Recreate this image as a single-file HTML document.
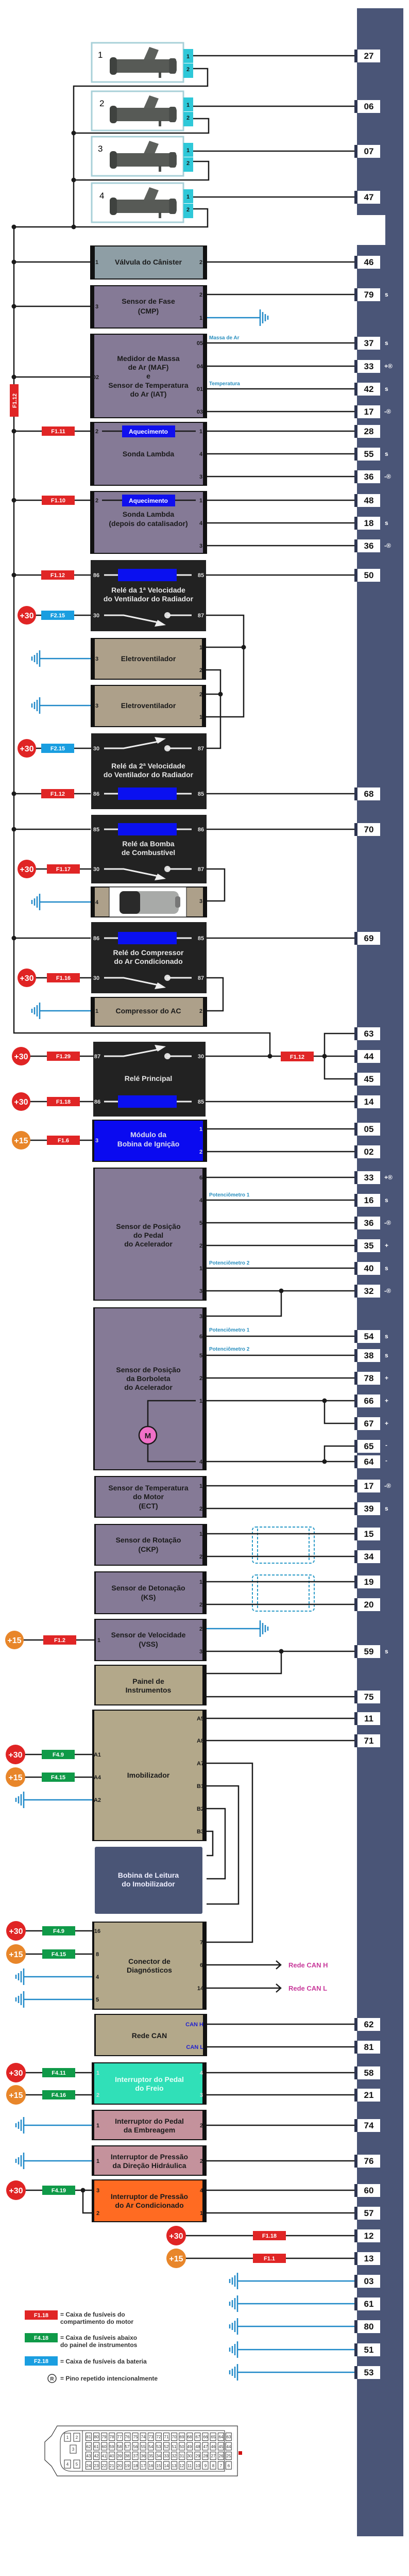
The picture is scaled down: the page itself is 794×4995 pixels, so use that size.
<!DOCTYPE html>
<html><head><meta charset="utf-8"><style>
html,body{margin:0;padding:0;background:#fff}
svg{display:block}
.w{stroke:#1a1a1a;stroke-width:2.5;fill:none}
.ww{stroke:#eee;stroke-width:3;fill:none}
.g{stroke:#1e88c8;stroke-width:2.5;fill:none}
text{font-family:"Liberation Sans",sans-serif;font-weight:bold}
.n{font-size:17px;text-anchor:middle;fill:#111}
.t{font-size:14px;text-anchor:middle;fill:#1a1a1a}
.tw{font-size:14px;text-anchor:middle;fill:#e6e6e6}
.p{font-size:11px;fill:#1a1a1a;text-anchor:middle}
.pw{font-size:11px;fill:#ddd;text-anchor:middle}
.f{font-size:11px;fill:#fff;text-anchor:middle}
.a{font-size:12px;fill:#fff}
.c{font-size:16px;fill:#fff;text-anchor:middle}
.lb{font-size:10px;fill:#2a8fbf}
.lg{font-size:12px;fill:#333}
.cn{font-size:8px;fill:#333;text-anchor:middle;font-weight:normal}
</style></head><body>
<svg width="794" height="4995" viewBox="0 0 794 4995" xmlns="http://www.w3.org/2000/svg">
<defs>
<g id="pb"><rect x="688" y="-12" width="7" height="25" fill="#2d3550"/><rect x="694" y="-12" width="44" height="25" fill="#fff"/></g>
<g id="gL"><path class="g" d="M0 -16V16M-5 -11V11M-10 -7V7M-15 -4V4"/></g>
<g id="gR"><path class="g" d="M0 -16V16M5 -11V11M10 -7V7M15 -4V4"/></g>
<g id="inj"><rect x="0" y="0" width="178" height="76" fill="#fff" stroke="#a8d0d8" stroke-width="3"/>
<polygon points="100,35 112,8 130,14 120,38" fill="#5d605c"/>
<rect x="35" y="32" width="130" height="26" rx="5" fill="#575a56"/>
<rect x="35" y="28" width="14" height="34" rx="6" fill="#3f423f"/>
<rect x="150" y="30" width="14" height="30" rx="4" fill="#4a4d4a"/>
<rect x="130" y="56" width="5" height="12" fill="#4a4d4a"/>
<rect x="178" y="12" width="19" height="27" fill="#2ec8d8"/><rect x="178" y="40" width="19" height="28" fill="#2ec8d8"/>
<text x="187" y="30" class="p" fill="#124">1</text><text x="187" y="55" class="p">2</text></g>
<g id="dot"><circle r="4.5" fill="#1a1a1a"/></g>
<pattern id="pp" x="166" y="4717" width="15.1" height="18.5" patternUnits="userSpaceOnUse"><rect x="0.5" y="0.5" width="11" height="15" fill="#fff" stroke="#333" stroke-width="1"/></pattern>
</defs>

<!-- ECU bar -->
<rect x="693" y="16" width="90" height="401" fill="#4a5577"/>
<rect x="748" y="417" width="35" height="60" fill="#4a5577"/>
<rect x="693" y="475" width="90" height="4443" fill="#4a5577"/>

<!-- injectors -->
<use href="#inj" x="178" y="83"/><use href="#inj" x="178" y="177"/><use href="#inj" x="178" y="265"/><use href="#inj" x="178" y="355"/>
<text x="190" y="112" style="font-size:17px;font-weight:normal">1</text>
<text x="193" y="206" style="font-size:17px;font-weight:normal">2</text>
<text x="190" y="294" style="font-size:17px;font-weight:normal">3</text>
<text x="193" y="385" style="font-size:17px;font-weight:normal">4</text>
<path class="w" d="M375 108H688M375 206H688M375 293H688M375 382H688"/>
<path class="w" d="M375 133H403V167H143V440M375 230H405V258H143M375 313H405V349H143M375 405H403V440H27V2003H524V2048"/>
<use href="#dot" x="143" y="258"/><use href="#dot" x="143" y="349"/><use href="#dot" x="143" y="440"/><use href="#dot" x="27" y="440"/>
<rect x="19" y="745" width="17" height="63" fill="#e02525"/>
<text transform="translate(32,777) rotate(-90)" class="f">F1.12</text>

<!-- bus dots & wires -->
<g>
<use href="#dot" x="27" y="508"/><use href="#dot" x="27" y="594"/><use href="#dot" x="27" y="731"/><use href="#dot" x="27" y="836"/><use href="#dot" x="27" y="970"/><use href="#dot" x="27" y="1115"/><use href="#dot" x="27" y="1539"/><use href="#dot" x="27" y="1608"/><use href="#dot" x="27" y="1819"/>
<path class="w" d="M27 508H176M27 594H176M27 731H176M27 836H176M27 970H176M27 1115H176M27 1539H176M27 1608H176M27 1819H176"/>
</g>

<!-- Canister -->
<rect x="175" y="476" width="227" height="66" fill="#111"/><rect x="184" y="478" width="210" height="62" fill="#8e9ea5"/>
<text x="288" y="513" class="t">Válvula do Cânister</text>
<text x="188" y="512" class="p">1</text><text x="390" y="512" class="p">2</text>
<!-- CMP -->
<rect x="175" y="553" width="227" height="84" fill="#111"/><rect x="183" y="555" width="211" height="80" fill="#857a96"/>
<text x="288" y="589" class="t">Sensor de Fase</text><text x="288" y="608" class="t">(CMP)</text>
<text x="390" y="575" class="p">2</text><text x="390" y="620" class="p">1</text><text x="188" y="598" class="p">3</text>
<path class="g" d="M402 616H505"/><use href="#gR" x="505" y="616"/>
<!-- MAF -->
<rect x="175" y="647" width="227" height="164" fill="#111"/><rect x="183" y="649" width="211" height="160" fill="#857a96"/>
<text x="288" y="700" class="t">Medidor de Massa</text><text x="288" y="717" class="t">de Ar (MAF)</text><text x="288" y="734" class="t">e</text><text x="288" y="752" class="t">Sensor de Temperatura</text><text x="288" y="769" class="t">do Ar (IAT)</text>
<text x="388" y="669" class="p">05</text><text x="388" y="714" class="p">04</text><text x="388" y="758" class="p">01</text><text x="388" y="802" class="p">03</text><text x="186" y="735" class="p">02</text>
<text x="406" y="658" class="lb">Massa de Ar</text><text x="406" y="747" class="lb">Temperatura</text>
<!-- Sonda 1 -->
<rect x="175" y="818" width="227" height="124" fill="#111"/><rect x="183" y="820" width="211" height="120" fill="#857a96"/>
<path class="w" d="M198 836H380"/><rect x="237" y="825" width="103" height="23" fill="#1010ee"/><text x="288" y="841" class="f" style="font-size:12px">Aquecimento</text>
<text x="188" y="840" class="p">2</text><text x="390" y="840" class="p">1</text><text x="390" y="884" class="p">4</text><text x="390" y="928" class="p">3</text>
<text x="288" y="885" class="t">Sonda Lambda</text>
<!-- Sonda 2 -->
<rect x="175" y="952" width="227" height="122" fill="#111"/><rect x="183" y="954" width="211" height="118" fill="#857a96"/>
<path class="w" d="M198 970H380"/><rect x="237" y="959" width="103" height="23" fill="#1010ee"/><text x="288" y="975" class="f" style="font-size:12px">Aquecimento</text>
<text x="188" y="974" class="p">2</text><text x="390" y="974" class="p">1</text><text x="390" y="1018" class="p">4</text><text x="390" y="1062" class="p">3</text>
<text x="288" y="1002" class="t">Sonda Lambda</text><text x="288" y="1020" class="t">(depois do catalisador)</text>

<!-- Relay 1 -->
<rect x="176" y="1086" width="224" height="138" fill="#222"/>
<path class="ww" d="M202 1115H229M343 1115H372"/><rect x="229" y="1103" width="114" height="24" fill="#0a10f0"/>
<text x="187" y="1119" class="pw">86</text><text x="390" y="1119" class="pw">85</text>
<text x="288" y="1149" class="tw">Relé da 1ª Velocidade</text><text x="288" y="1166" class="tw">do Ventilador do Radiador</text>
<path class="ww" d="M202 1193H240L312 1208"/><polygon points="322,1212 300,1215 306,1202" fill="#eee"/><circle cx="325" cy="1193" r="6" fill="#ddd"/><path class="ww" d="M325 1193H372"/>
<text x="187" y="1197" class="pw">30</text><text x="390" y="1197" class="pw">87</text>
<!-- Eletroventiladores -->
<rect x="176" y="1237" width="224" height="81" fill="#111"/><rect x="184" y="1239" width="208" height="77" fill="#ada08a"/>
<text x="288" y="1282" class="t">Eletroventilador</text><text x="188" y="1281" class="p">3</text><text x="390" y="1259" class="p">1</text><text x="390" y="1303" class="p">2</text>
<rect x="176" y="1328" width="224" height="82" fill="#111"/><rect x="184" y="1330" width="208" height="78" fill="#ada08a"/>
<text x="288" y="1373" class="t">Eletroventilador</text><text x="188" y="1372" class="p">3</text><text x="390" y="1350" class="p">2</text><text x="390" y="1394" class="p">1</text>
<path class="w" d="M400 1193H473V1390H400M400 1255H473M400 1299H428V1451H400M400 1346H428"/>
<use href="#dot" x="473" y="1255"/><use href="#dot" x="428" y="1346"/>
<path class="g" d="M77 1277H176M77 1368H176M77 1749H176M77 1960H176"/>
<use href="#gL" x="77" y="1277"/><use href="#gL" x="77" y="1368"/><use href="#gL" x="77" y="1749"/><use href="#gL" x="77" y="1960"/>
<!-- Relay 2 -->
<rect x="177" y="1422" width="224" height="147" fill="#222"/>
<path class="ww" d="M202 1451H240L312 1437"/><polygon points="322,1432 300,1429 306,1442" fill="#eee"/><circle cx="325" cy="1451" r="6" fill="#ddd"/><path class="ww" d="M325 1451H372"/>
<text x="187" y="1455" class="pw">30</text><text x="390" y="1455" class="pw">87</text>
<text x="288" y="1490" class="tw">Relé da 2ª Velocidade</text><text x="288" y="1507" class="tw">do Ventilador do Radiador</text>
<path class="ww" d="M202 1539H229M343 1539H372"/><rect x="229" y="1527" width="114" height="24" fill="#0a10f0"/>
<text x="187" y="1543" class="pw">86</text><text x="390" y="1543" class="pw">85</text>
<!-- Fuel relay -->
<rect x="177" y="1580" width="224" height="133" fill="#222"/>
<path class="ww" d="M202 1608H229M343 1608H372"/><rect x="229" y="1596" width="114" height="24" fill="#0a10f0"/>
<text x="187" y="1612" class="pw">85</text><text x="390" y="1612" class="pw">86</text>
<text x="288" y="1641" class="tw">Relé da Bomba</text><text x="288" y="1658" class="tw">de Combustível</text>
<path class="ww" d="M202 1685H240L312 1700"/><polygon points="322,1704 300,1707 306,1694" fill="#eee"/><circle cx="325" cy="1685" r="6" fill="#ddd"/><path class="ww" d="M325 1685H372"/>
<text x="187" y="1689" class="pw">30</text><text x="390" y="1689" class="pw">87</text>
<!-- Pump -->
<rect x="176" y="1719" width="226" height="60" fill="#111"/><rect x="184" y="1721" width="210" height="56" fill="#ada08a"/>
<rect x="212" y="1720" width="150" height="58" fill="#fff" stroke="#111"/>
<rect x="255" y="1728" width="92" height="44" rx="10" fill="#a8aaa8"/><rect x="232" y="1728" width="40" height="44" rx="8" fill="#2a2a2a"/><rect x="340" y="1738" width="10" height="22" rx="4" fill="#777"/>
<text x="188" y="1753" class="p">4</text><text x="390" y="1751" class="p">3</text>
<path class="w" d="M401 1685H436V1747H402"/>
<!-- AC relay -->
<rect x="177" y="1788" width="224" height="138" fill="#222"/>
<path class="ww" d="M202 1819H229M343 1819H372"/><rect x="229" y="1807" width="114" height="24" fill="#0a10f0"/>
<text x="187" y="1823" class="pw">86</text><text x="390" y="1823" class="pw">85</text>
<text x="288" y="1852" class="tw">Relé do Compressor</text><text x="288" y="1869" class="tw">do Ar Condicionado</text>
<path class="ww" d="M202 1896H240L312 1911"/><polygon points="322,1915 300,1918 306,1905" fill="#eee"/><circle cx="325" cy="1896" r="6" fill="#ddd"/><path class="ww" d="M325 1896H372"/>
<text x="187" y="1900" class="pw">30</text><text x="390" y="1900" class="pw">87</text>
<rect x="176" y="1933" width="226" height="58" fill="#111"/><rect x="184" y="1935" width="210" height="54" fill="#ada08a"/>
<text x="288" y="1965" class="t">Compressor do AC</text><text x="188" y="1964" class="p">1</text><text x="390" y="1964" class="p">2</text>
<path class="w" d="M401 1896H433V1960H402"/>
<!-- Main relay -->
<rect x="181" y="2020" width="218" height="145" fill="#222"/>
<path class="ww" d="M202 2048H240L312 2034"/><polygon points="322,2029 300,2026 306,2039" fill="#eee"/><circle cx="325" cy="2048" r="6" fill="#ddd"/><path class="ww" d="M325 2048H372"/>
<text x="189" y="2052" class="pw">87</text><text x="390" y="2052" class="pw">30</text>
<text x="288" y="2096" class="tw">Relé Principal</text>
<path class="ww" d="M202 2136H229M343 2136H372"/><rect x="229" y="2124" width="114" height="24" fill="#0a10f0"/>
<text x="189" y="2140" class="pw">86</text><text x="390" y="2140" class="pw">85</text>
<path class="w" d="M399 2048H688M630 2048V2004H688M630 2048V2092H688"/>
<use href="#dot" x="524" y="2048"/><use href="#dot" x="630" y="2048"/>
<rect x="545" y="2039" width="64" height="19" fill="#e02525"/><text x="577" y="2053" class="f">F1.12</text>
<!-- Ignition -->
<rect x="179" y="2171" width="223" height="82" fill="#111"/><rect x="183" y="2173" width="211" height="78" fill="#0a0af0"/>
<text x="288" y="2205" class="tw" style="fill:#dde">Módulo da</text><text x="288" y="2223" class="tw" style="fill:#dde">Bobina de Ignição</text>
<text x="390" y="2193" class="pw">1</text><text x="390" y="2237" class="pw">2</text><text x="188" y="2215" class="pw">3</text>
<!-- Pedal -->
<rect x="181" y="2264" width="220" height="258" fill="#111"/><rect x="184" y="2266" width="209" height="254" fill="#857a96"/>
<text x="288" y="2383" class="t">Sensor de Posição</text><text x="288" y="2400" class="t">do Pedal</text><text x="288" y="2417" class="t">do Acelerador</text>
<text x="390" y="2287" class="p">6</text><text x="390" y="2331" class="p">4</text><text x="390" y="2375" class="p">5</text><text x="390" y="2419" class="p">2</text><text x="390" y="2463" class="p">1</text><text x="390" y="2507" class="p">3</text>
<text x="406" y="2320" class="lb">Potenciômetro 1</text><text x="406" y="2452" class="lb">Potenciômetro 2</text>
<path class="w" d="M546 2503V2552H401"/><use href="#dot" x="546" y="2503"/>
<!-- TPS -->
<rect x="181" y="2535" width="220" height="316" fill="#111"/><rect x="184" y="2537" width="209" height="312" fill="#857a96"/>
<text x="288" y="2661" class="t">Sensor de Posição</text><text x="288" y="2678" class="t">da Borboleta</text><text x="288" y="2695" class="t">do Acelerador</text>
<text x="390" y="2556" class="p">3</text><text x="390" y="2595" class="p">6</text><text x="390" y="2632" class="p">5</text><text x="390" y="2676" class="p">2</text><text x="390" y="2720" class="p">1</text><text x="390" y="2838" class="p">4</text>
<text x="406" y="2582" class="lb">Potenciômetro 1</text><text x="406" y="2619" class="lb">Potenciômetro 2</text>
<path class="w" d="M380 2716H287V2766M287 2800V2834H380"/>
<circle cx="287" cy="2783" r="17" fill="#f070c8" stroke="#1a1a1a" stroke-width="2.5"/><text x="287" y="2789" class="t" style="font-size:15px">M</text>
<path class="w" d="M630 2716V2760H688M630 2834V2804H688"/><use href="#dot" x="630" y="2716"/><use href="#dot" x="630" y="2834"/>
<!-- ECT -->
<rect x="183" y="2862" width="218" height="81" fill="#111"/><rect x="186" y="2864" width="207" height="77" fill="#857a96"/>
<text x="288" y="2890" class="t">Sensor de Temperatura</text><text x="288" y="2907" class="t">do Motor</text><text x="288" y="2925" class="t">(ECT)</text>
<text x="390" y="2885" class="p">1</text><text x="390" y="2929" class="p">2</text>
<!-- CKP -->
<rect x="183" y="2955" width="219" height="81" fill="#111"/><rect x="186" y="2957" width="207" height="77" fill="#857a96"/>
<text x="288" y="2991" class="t">Sensor de Rotação</text><text x="288" y="3009" class="t">(CKP)</text>
<text x="390" y="2978" class="p">1</text><text x="390" y="3022" class="p">2</text>
<!-- KS -->
<rect x="183" y="3047" width="218" height="83" fill="#111"/><rect x="186" y="3049" width="207" height="79" fill="#857a96"/>
<text x="288" y="3084" class="t">Sensor de Detonação</text><text x="288" y="3102" class="t">(KS)</text>
<text x="390" y="3071" class="p">1</text><text x="390" y="3115" class="p">2</text>
<g fill="none" stroke="#2a9ac8" stroke-width="2" stroke-dasharray="5,3">
<rect x="490" y="2961" width="120" height="70" rx="6"/><path d="M500 2964V3028M600 2964V3028"/>
<rect x="490" y="3054" width="120" height="70" rx="6"/><path d="M500 3057V3121M600 3057V3121"/>
</g>
<!-- VSS -->
<rect x="183" y="3139" width="218" height="82" fill="#111"/><rect x="186" y="3141" width="207" height="78" fill="#857a96"/>
<text x="288" y="3175" class="t">Sensor de Velocidade</text><text x="288" y="3193" class="t">(VSS)</text>
<text x="390" y="3162" class="p">2</text><text x="390" y="3206" class="p">3</text><text x="192" y="3184" class="p">1</text>
<path class="g" d="M401 3158H505"/><use href="#gR" x="505" y="3158"/>
<path class="w" d="M546 3202V3245H401"/><use href="#dot" x="546" y="3202"/>
<!-- Painel -->
<rect x="183" y="3228" width="218" height="79" fill="#111"/><rect x="186" y="3230" width="207" height="75" fill="#b3a88a"/>
<text x="288" y="3265" class="t">Painel de</text><text x="288" y="3282" class="t">Instrumentos</text>
<!-- Immobilizer -->
<rect x="179" y="3315" width="222" height="255" fill="#111"/><rect x="183" y="3317" width="210" height="251" fill="#b3a88a"/>
<text x="288" y="3447" class="t">Imobilizador</text>
<text x="389" y="3336" class="p">A5</text><text x="389" y="3379" class="p">A8</text><text x="389" y="3423" class="p">A7</text><text x="389" y="3467" class="p">B1</text><text x="389" y="3511" class="p">B2</text><text x="389" y="3555" class="p">B3</text>
<text x="189" y="3406" class="p">A1</text><text x="189" y="3450" class="p">A4</text><text x="189" y="3494" class="p">A2</text>
<path class="w" d="M401 3419H490V3766H401M401 3463H463V3692H401M401 3507H437V3643H401M401 3551H413V3598H401"/>
<!-- Bobina -->
<rect x="184" y="3581" width="209" height="130" rx="3" fill="#4a5576"/>
<text x="288" y="3641" class="tw" style="fill:#eef">Bobina de Leitura</text><text x="288" y="3658" class="tw" style="fill:#eef">do Imobilizador</text>
<path class="g" d="M46 3490H179M46 3833H179M46 3877H179M46 4121H178M46 4190H178"/>
<use href="#gL" x="46" y="3490"/><use href="#gL" x="46" y="3833"/><use href="#gL" x="46" y="3877"/><use href="#gL" x="46" y="4121"/><use href="#gL" x="46" y="4190"/>
<!-- Diag -->
<rect x="179" y="3726" width="222" height="171" fill="#111"/><rect x="183" y="3728" width="210" height="167" fill="#b3a88a"/>
<text x="290" y="3808" class="t">Conector de</text><text x="290" y="3825" class="t">Diagnósticos</text>
<text x="189" y="3748" class="p">16</text><text x="189" y="3793" class="p">8</text><text x="189" y="3837" class="p">4</text><text x="189" y="3881" class="p">5</text>
<text x="391" y="3770" class="p">7</text><text x="391" y="3814" class="p">6</text><text x="389" y="3859" class="p">14</text>
<path class="w" d="M401 3810H545M536 3802L545 3810L536 3818M401 3855H545M536 3847L545 3855L536 3863"/>
<text x="560" y="3815" style="font-size:13px;fill:#c8389a">Rede CAN H</text><text x="560" y="3860" style="font-size:13px;fill:#c8389a">Rede CAN L</text>
<!-- Rede CAN -->
<rect x="183" y="3905" width="219" height="82" fill="#111"/><rect x="186" y="3907" width="208" height="78" fill="#b3a88a"/>
<text x="290" y="3952" class="t">Rede CAN</text>
<text x="395" y="3929" style="font-size:11px;fill:#2020d0;text-anchor:end">CAN H</text><text x="395" y="3973" style="font-size:11px;fill:#2020d0;text-anchor:end">CAN L</text>
<!-- Brake -->
<rect x="178" y="3999" width="223" height="82" fill="#111"/><rect x="183" y="4001" width="210" height="78" fill="#30e0b8"/>
<text x="290" y="4037" class="tw" style="fill:#e8fff8">Interruptor do Pedal</text><text x="290" y="4054" class="tw" style="fill:#e8fff8">do Freio</text>
<text x="190" y="4023" class="pw">1</text><text x="190" y="4066" class="pw">2</text><text x="391" y="4023" class="pw">4</text><text x="391" y="4066" class="pw">3</text>
<!-- Clutch -->
<rect x="178" y="4091" width="223" height="59" fill="#111"/><rect x="183" y="4093" width="210" height="55" fill="#c4929c"/>
<text x="290" y="4118" class="t">Interruptor do Pedal</text><text x="290" y="4135" class="t">da Embreagem</text>
<text x="190" y="4125" class="p">1</text><text x="391" y="4125" class="p">2</text>
<!-- Steering -->
<rect x="178" y="4160" width="223" height="59" fill="#111"/><rect x="183" y="4162" width="210" height="55" fill="#c4929c"/>
<text x="290" y="4187" class="t">Interruptor de Pressão</text><text x="290" y="4204" class="t">da Direção Hidráulica</text>
<text x="190" y="4194" class="p">1</text><text x="391" y="4194" class="p">2</text>
<!-- AC pressure -->
<rect x="178" y="4226" width="223" height="83" fill="#111"/><rect x="183" y="4228" width="210" height="79" fill="#ff6b22"/>
<text x="290" y="4264" class="t">Interruptor de Pressão</text><text x="290" y="4281" class="t">do Ar Condicionado</text>
<text x="190" y="4251" class="p">3</text><text x="190" y="4295" class="p">2</text><text x="391" y="4251" class="p">4</text><text x="391" y="4295" class="p">1</text>
<path class="w" d="M161 4247V4291H178"/><use href="#dot" x="161" y="4247"/>

<!-- supply circles and fuses (left) -->
<path class="w" d="M52 1193H177M52 1451H177M52 1685H177M52 1896H177M41 2048H181M41 2136H181M41 2211H179M28 3180H183M30 3402H179M30 3446H179M30 3744H179M30 3789H179M31 4019H178M31 4062H178M31 4247H178M342 4335H688M342 4379H688"/>
<g>
<circle cx="52" cy="1193" r="18" fill="#e02424"/><text x="52" y="1199" class="c">+30</text>
<circle cx="52" cy="1451" r="18" fill="#e02424"/><text x="52" y="1457" class="c">+30</text>
<circle cx="52" cy="1685" r="18" fill="#e02424"/><text x="52" y="1691" class="c">+30</text>
<circle cx="52" cy="1896" r="18" fill="#e02424"/><text x="52" y="1902" class="c">+30</text>
<circle cx="41" cy="2048" r="18" fill="#e02424"/><text x="41" y="2054" class="c">+30</text>
<circle cx="41" cy="2136" r="18" fill="#e02424"/><text x="41" y="2142" class="c">+30</text>
<circle cx="41" cy="2211" r="18" fill="#e8862a"/><text x="41" y="2217" class="c">+15</text>
<circle cx="28" cy="3180" r="18" fill="#e8862a"/><text x="28" y="3186" class="c">+15</text>
<circle cx="30" cy="3402" r="19" fill="#e02424"/><text x="30" y="3408" class="c">+30</text>
<circle cx="30" cy="3446" r="19" fill="#e8862a"/><text x="30" y="3452" class="c">+15</text>
<circle cx="31" cy="3744" r="19" fill="#e02424"/><text x="31" y="3750" class="c">+30</text>
<circle cx="31" cy="3789" r="19" fill="#e8862a"/><text x="31" y="3795" class="c">+15</text>
<circle cx="31" cy="4019" r="19" fill="#e02424"/><text x="31" y="4025" class="c">+30</text>
<circle cx="31" cy="4062" r="19" fill="#e8862a"/><text x="31" y="4068" class="c">+15</text>
<circle cx="31" cy="4247" r="19" fill="#e02424"/><text x="31" y="4253" class="c">+30</text>
<circle cx="342" cy="4335" r="19" fill="#e02424"/><text x="342" y="4341" class="c">+30</text>
<circle cx="342" cy="4379" r="19" fill="#e8862a"/><text x="342" y="4385" class="c">+15</text>
</g>
<g>
<rect x="81" y="827" width="64" height="18" fill="#e02525"/><text x="113" y="840" class="f">F1.11</text>
<rect x="81" y="961" width="64" height="18" fill="#e02525"/><text x="113" y="974" class="f">F1.10</text>
<rect x="80" y="1106" width="64" height="18" fill="#e02525"/><text x="112" y="1119" class="f">F1.12</text>
<rect x="80" y="1184" width="64" height="18" fill="#1a9ee0"/><text x="112" y="1197" class="f">F2.15</text>
<rect x="80" y="1442" width="64" height="18" fill="#1a9ee0"/><text x="112" y="1455" class="f">F2.15</text>
<rect x="80" y="1530" width="64" height="18" fill="#e02525"/><text x="112" y="1543" class="f">F1.12</text>
<rect x="91" y="1676" width="64" height="18" fill="#e02525"/><text x="123" y="1689" class="f">F1.17</text>
<rect x="91" y="1887" width="64" height="18" fill="#e02525"/><text x="123" y="1900" class="f">F1.16</text>
<rect x="91" y="2039" width="64" height="18" fill="#e02525"/><text x="123" y="2052" class="f">F1.29</text>
<rect x="91" y="2127" width="64" height="18" fill="#e02525"/><text x="123" y="2140" class="f">F1.18</text>
<rect x="91" y="2202" width="64" height="18" fill="#e02525"/><text x="123" y="2215" class="f">F1.6</text>
<rect x="84" y="3171" width="64" height="18" fill="#e02525"/><text x="116" y="3184" class="f">F1.2</text>
<rect x="81" y="3393" width="64" height="18" fill="#0f9a48"/><text x="113" y="3406" class="f">F4.9</text>
<rect x="81" y="3437" width="64" height="18" fill="#0f9a48"/><text x="113" y="3450" class="f">F4.15</text>
<rect x="82" y="3735" width="64" height="18" fill="#0f9a48"/><text x="114" y="3748" class="f">F4.9</text>
<rect x="82" y="3780" width="64" height="18" fill="#0f9a48"/><text x="114" y="3793" class="f">F4.15</text>
<rect x="82" y="4010" width="64" height="18" fill="#0f9a48"/><text x="114" y="4023" class="f">F4.11</text>
<rect x="82" y="4053" width="64" height="18" fill="#0f9a48"/><text x="114" y="4066" class="f">F4.16</text>
<rect x="82" y="4238" width="64" height="18" fill="#0f9a48"/><text x="114" y="4251" class="f">F4.19</text>
<rect x="491" y="4326" width="64" height="18" fill="#e02525"/><text x="523" y="4339" class="f">F1.18</text>
<rect x="491" y="4370" width="64" height="18" fill="#e02525"/><text x="523" y="4383" class="f">F1.1</text>
</g>

<!-- wires to ECU -->
<path class="w" d="M402 508H688M402 571H688M402 665H688M402 710H688M402 754H688M402 798H688M402 836H688M402 880H688M402 924H688M402 970H688M402 1014H688M402 1058H688M400 1115H688M401 1539H688M401 1608H688M401 1819H688M399 2136H688M402 2189H688M402 2233H688M401 2283H688M401 2327H688M401 2371H688M401 2415H688M401 2459H688M401 2503H688M401 2591H688M401 2628H688M401 2672H688M401 2716H688M401 2834H688M401 2881H688M401 2925H688M402 2974H688M402 3018H688M401 3067H688M401 3111H688M401 3202H688M401 3290H688M401 3332H688M401 3375H688M402 3925H688M402 3969H688M401 4019H688M401 4062H688M401 4121H688M401 4190H688M401 4247H688M401 4291H688"/>
<path class="g" d="M461 4423H688M461 4467H688M461 4511H688M461 4556H688M461 4600H688"/>
<use href="#gL" x="461" y="4423"/><use href="#gL" x="461" y="4467"/><use href="#gL" x="461" y="4511"/><use href="#gL" x="461" y="4556"/><use href="#gL" x="461" y="4600"/>

<!-- ECU pins -->
<g>
<use href="#pb" y="108"/><use href="#pb" y="206"/><use href="#pb" y="293"/><use href="#pb" y="382"/><use href="#pb" y="508"/><use href="#pb" y="571"/><use href="#pb" y="665"/><use href="#pb" y="710"/><use href="#pb" y="754"/><use href="#pb" y="798"/><use href="#pb" y="836"/><use href="#pb" y="880"/><use href="#pb" y="924"/><use href="#pb" y="970"/><use href="#pb" y="1014"/><use href="#pb" y="1058"/><use href="#pb" y="1115"/><use href="#pb" y="1539"/><use href="#pb" y="1608"/><use href="#pb" y="1819"/><use href="#pb" y="2004"/><use href="#pb" y="2048"/><use href="#pb" y="2092"/><use href="#pb" y="2136"/><use href="#pb" y="2189"/><use href="#pb" y="2233"/><use href="#pb" y="2283"/><use href="#pb" y="2327"/><use href="#pb" y="2371"/><use href="#pb" y="2415"/><use href="#pb" y="2459"/><use href="#pb" y="2503"/><use href="#pb" y="2591"/><use href="#pb" y="2628"/><use href="#pb" y="2672"/><use href="#pb" y="2716"/><use href="#pb" y="2760"/><use href="#pb" y="2804"/><use href="#pb" y="2834"/><use href="#pb" y="2881"/><use href="#pb" y="2925"/><use href="#pb" y="2974"/><use href="#pb" y="3018"/><use href="#pb" y="3067"/><use href="#pb" y="3111"/><use href="#pb" y="3202"/><use href="#pb" y="3290"/><use href="#pb" y="3332"/><use href="#pb" y="3375"/><use href="#pb" y="3925"/><use href="#pb" y="3969"/><use href="#pb" y="4019"/><use href="#pb" y="4062"/><use href="#pb" y="4121"/><use href="#pb" y="4190"/><use href="#pb" y="4247"/><use href="#pb" y="4291"/><use href="#pb" y="4335"/><use href="#pb" y="4379"/><use href="#pb" y="4423"/><use href="#pb" y="4467"/><use href="#pb" y="4511"/><use href="#pb" y="4556"/><use href="#pb" y="4600"/>
</g>
<g class="n">
<text x="716" y="114" class="n">27</text><text x="716" y="212" class="n">06</text><text x="716" y="299" class="n">07</text><text x="716" y="388" class="n">47</text><text x="716" y="514" class="n">46</text><text x="716" y="577" class="n">79</text><text x="716" y="671" class="n">37</text><text x="716" y="716" class="n">33</text><text x="716" y="760" class="n">42</text><text x="716" y="804" class="n">17</text><text x="716" y="842" class="n">28</text><text x="716" y="886" class="n">55</text><text x="716" y="930" class="n">36</text><text x="716" y="976" class="n">48</text><text x="716" y="1020" class="n">18</text><text x="716" y="1064" class="n">36</text><text x="716" y="1121" class="n">50</text><text x="716" y="1545" class="n">68</text><text x="716" y="1614" class="n">70</text><text x="716" y="1825" class="n">69</text><text x="716" y="2010" class="n">63</text><text x="716" y="2054" class="n">44</text><text x="716" y="2098" class="n">45</text><text x="716" y="2142" class="n">14</text><text x="716" y="2195" class="n">05</text><text x="716" y="2239" class="n">02</text><text x="716" y="2289" class="n">33</text><text x="716" y="2333" class="n">16</text><text x="716" y="2377" class="n">36</text><text x="716" y="2421" class="n">35</text><text x="716" y="2465" class="n">40</text><text x="716" y="2509" class="n">32</text><text x="716" y="2597" class="n">54</text><text x="716" y="2634" class="n">38</text><text x="716" y="2678" class="n">78</text><text x="716" y="2722" class="n">66</text><text x="716" y="2766" class="n">67</text><text x="716" y="2810" class="n">65</text><text x="716" y="2840" class="n">64</text><text x="716" y="2887" class="n">17</text><text x="716" y="2931" class="n">39</text><text x="716" y="2980" class="n">15</text><text x="716" y="3024" class="n">34</text><text x="716" y="3073" class="n">19</text><text x="716" y="3117" class="n">20</text><text x="716" y="3208" class="n">59</text><text x="716" y="3296" class="n">75</text><text x="716" y="3338" class="n">11</text><text x="716" y="3381" class="n">71</text><text x="716" y="3931" class="n">62</text><text x="716" y="3975" class="n">81</text><text x="716" y="4025" class="n">58</text><text x="716" y="4068" class="n">21</text><text x="716" y="4127" class="n">74</text><text x="716" y="4196" class="n">76</text><text x="716" y="4253" class="n">60</text><text x="716" y="4297" class="n">57</text><text x="716" y="4341" class="n">12</text><text x="716" y="4385" class="n">13</text><text x="716" y="4429" class="n">03</text><text x="716" y="4473" class="n">61</text><text x="716" y="4517" class="n">80</text><text x="716" y="4562" class="n">51</text><text x="716" y="4606" class="n">53</text>
</g>
<g class="a">
<text x="747" y="575" class="a">s</text><text x="747" y="669" class="a">s</text><text x="746" y="714" class="a">+®</text><text x="747" y="758" class="a">s</text><text x="746" y="802" class="a">-®</text><text x="747" y="884" class="a">s</text><text x="746" y="928" class="a">-®</text><text x="747" y="1018" class="a">s</text><text x="746" y="1062" class="a">-®</text>
<text x="746" y="2287" class="a">+®</text><text x="747" y="2331" class="a">s</text><text x="746" y="2375" class="a">-®</text><text x="747" y="2419" class="a">+</text><text x="747" y="2463" class="a">s</text><text x="746" y="2507" class="a">-®</text>
<text x="747" y="2595" class="a">s</text><text x="747" y="2632" class="a">s</text><text x="747" y="2676" class="a">+</text><text x="747" y="2720" class="a">+</text><text x="747" y="2764" class="a">+</text><text x="748" y="2806" class="a">-</text><text x="748" y="2836" class="a">-</text><text x="746" y="2885" class="a">-®</text><text x="747" y="2929" class="a">s</text><text x="747" y="3206" class="a">s</text>
</g>

<!-- legend -->
<rect x="48" y="4480" width="64" height="18" fill="#e02525"/><text x="80" y="4493" class="f">F1.18</text>
<text x="117" y="4492" class="lg">= Caixa de fusíveis do</text><text x="117" y="4506" class="lg">compartimento do motor</text>
<rect x="48" y="4524" width="64" height="18" fill="#0f9a48"/><text x="80" y="4537" class="f">F4.18</text>
<text x="117" y="4537" class="lg">= Caixa de fusíveis abaixo</text><text x="117" y="4551" class="lg">do painel de instrumentos</text>
<rect x="48" y="4569" width="64" height="18" fill="#1a9ee0"/><text x="80" y="4582" class="f">F2.18</text>
<text x="117" y="4583" class="lg">= Caixa de fusíveis da bateria</text>
<circle cx="101" cy="4612" r="8" fill="none" stroke="#333" stroke-width="1.5"/><text x="101" y="4616" class="lg" style="font-size:10px;text-anchor:middle">R</text>
<text x="117" y="4616" class="lg">= Pino repetido intencionalmente</text>

<!-- connector drawing -->
<path d="M111 4704H461V4801H111L100 4782L87 4770V4735L100 4723Z" fill="#fff" stroke="#333" stroke-width="1.2"/>
<path d="M140 4713H436V4792H140Q117 4792 117 4770V4735Q117 4713 140 4713Z" fill="none" stroke="#333" stroke-width="1"/>
<path d="M160 4713V4792M436 4713V4792" stroke="#333" fill="none"/>
<rect x="166" y="4717" width="287" height="74" fill="url(#pp)"/>
<rect x="125" y="4718" width="12" height="16" fill="#fff" stroke="#333"/><rect x="143" y="4718" width="12" height="16" fill="#fff" stroke="#333"/><rect x="136" y="4741" width="12" height="16" fill="#fff" stroke="#333"/><rect x="125" y="4770" width="12" height="16" fill="#fff" stroke="#333"/><rect x="143" y="4770" width="12" height="16" fill="#fff" stroke="#333"/>
<text x="131" y="4729" class="cn">1</text><text x="149" y="4729" class="cn">2</text><text x="142" y="4752" class="cn">3</text><text x="131" y="4781" class="cn">4</text><text x="149" y="4781" class="cn">5</text>
<rect x="463" y="4753" width="7" height="7" fill="#d01010"/>
<text y="4728" class="cn"><tspan x="172">81</tspan><tspan x="187">80</tspan><tspan x="202">79</tspan><tspan x="217">78</tspan><tspan x="232">77</tspan><tspan x="247">76</tspan><tspan x="263">75</tspan><tspan x="278">74</tspan><tspan x="293">73</tspan><tspan x="308">72</tspan><tspan x="323">71</tspan><tspan x="338">70</tspan><tspan x="353">69</tspan><tspan x="368">68</tspan><tspan x="384">67</tspan><tspan x="399">66</tspan><tspan x="414">65</tspan><tspan x="429">64</tspan><tspan x="444">63</tspan></text>
<text y="4747" class="cn"><tspan x="172">62</tspan><tspan x="187">61</tspan><tspan x="202">60</tspan><tspan x="217">59</tspan><tspan x="232">58</tspan><tspan x="247">57</tspan><tspan x="263">56</tspan><tspan x="278">55</tspan><tspan x="293">54</tspan><tspan x="308">53</tspan><tspan x="323">52</tspan><tspan x="338">51</tspan><tspan x="353">50</tspan><tspan x="368">49</tspan><tspan x="384">48</tspan><tspan x="399">47</tspan><tspan x="414">46</tspan><tspan x="429">45</tspan><tspan x="444">44</tspan></text>
<text y="4765" class="cn"><tspan x="172">43</tspan><tspan x="187">42</tspan><tspan x="202">41</tspan><tspan x="217">40</tspan><tspan x="232">39</tspan><tspan x="247">38</tspan><tspan x="263">37</tspan><tspan x="278">36</tspan><tspan x="293">35</tspan><tspan x="308">34</tspan><tspan x="323">33</tspan><tspan x="338">32</tspan><tspan x="353">31</tspan><tspan x="368">30</tspan><tspan x="384">29</tspan><tspan x="399">28</tspan><tspan x="414">27</tspan><tspan x="429">26</tspan><tspan x="444">25</tspan></text>
<text y="4784" class="cn"><tspan x="172">24</tspan><tspan x="187">23</tspan><tspan x="202">22</tspan><tspan x="217">21</tspan><tspan x="232">20</tspan><tspan x="247">19</tspan><tspan x="263">18</tspan><tspan x="278">17</tspan><tspan x="293">16</tspan><tspan x="308">15</tspan><tspan x="323">14</tspan><tspan x="338">13</tspan><tspan x="353">12</tspan><tspan x="368">11</tspan><tspan x="384">10</tspan><tspan x="399">9</tspan><tspan x="414">8</tspan><tspan x="429">7</tspan><tspan x="444">6</tspan></text>
</svg>
</body></html>
